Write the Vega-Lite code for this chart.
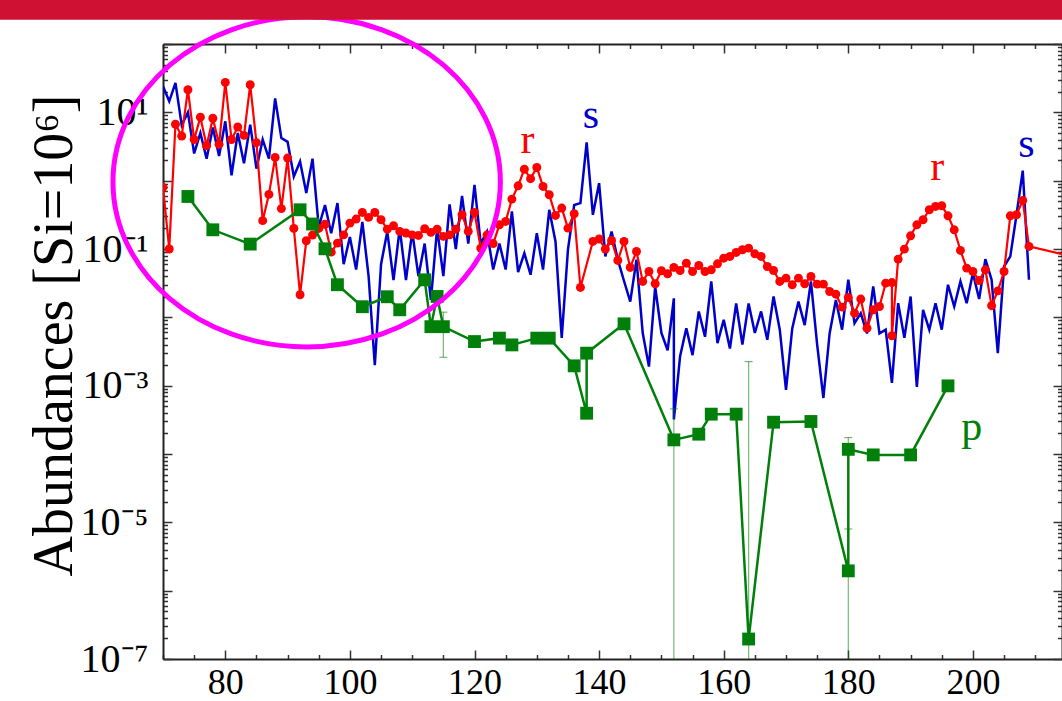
{
 "$schema": "https://vega.github.io/schema/vega-lite/v6.json",
 "width": 899,
 "height": 615,
 "autosize": {"type": "none"},
 "padding": {"left": 163, "top": 44, "right": 0, "bottom": 42},
 "background": "white",
 "config": {
  "view": {"stroke": null},
  "font": "Liberation Serif",
  "axis": {"grid": false, "domainColor": "#222", "domainWidth": 2, "tickColor": "#333", "tickWidth": 1.5, "labelColor": "#000", "labelFont": "Liberation Serif", "titleFont": "Liberation Serif", "titleColor": "#000", "titleFontWeight": "normal", "labelOverlap": false, "labelFlush": false}
 },
 "datasets": {
  "s": [
   {"A":70,"v":24},{"A":71,"v":14.5},{"A":72,"v":27},{"A":73,"v":6.5},{"A":74,"v":10},{"A":75,"v":2.5},{"A":76,"v":5},{"A":77,"v":2.1},{"A":78,"v":6},{"A":79,"v":2.3},
   {"A":80,"v":7.4},{"A":81,"v":1.2},{"A":82,"v":5},{"A":83,"v":1.8},{"A":84,"v":6.6},{"A":85,"v":1.5},{"A":86,"v":4},{"A":87,"v":2.1},{"A":88,"v":16},{"A":89,"v":4.2},
   {"A":90,"v":3.7},{"A":91,"v":1.15},{"A":92,"v":1.9},{"A":93,"v":0.66},{"A":94,"v":2.1},{"A":95,"v":0.21},{"A":96,"v":0.44},{"A":97,"v":0.17},{"A":98,"v":0.47},{"A":99,"v":0.06},
   {"A":100,"v":0.15},{"A":101,"v":0.05},{"A":102,"v":0.25},{"A":103,"v":0.04},{"A":104,"v":0.002},{"A":105,"v":0.06},{"A":106,"v":0.18},{"A":107,"v":0.035},{"A":108,"v":0.2},{"A":109,"v":0.035},
   {"A":110,"v":0.18},{"A":111,"v":0.04},{"A":112,"v":0.12},{"A":113,"v":0.018},{"A":114,"v":0.2},{"A":115,"v":0.04},{"A":116,"v":0.45},{"A":117,"v":0.1},{"A":118,"v":0.6},{"A":119,"v":0.12},
   {"A":120,"v":0.87},{"A":121,"v":0.12},{"A":122,"v":0.18},{"A":123,"v":0.05},{"A":124,"v":0.12},{"A":125,"v":0.05},{"A":126,"v":0.355},{"A":127,"v":0.046},{"A":128,"v":0.087},{"A":129,"v":0.042},
   {"A":130,"v":0.17},{"A":131,"v":0.05},{"A":132,"v":0.375},{"A":133,"v":0.129},{"A":134,"v":0.005},{"A":135,"v":0.098},{"A":136,"v":0.44},{"A":137,"v":0.47},{"A":138,"v":3.63},{"A":139,"v":0.316},
   {"A":140,"v":0.92},{"A":141,"v":0.078},{"A":142,"v":0.18},{"A":143,"v":0.07},{"A":144,"v":0.034},{"A":145,"v":0.017},{"A":146,"v":0.07},{"A":147,"v":0.0059},{"A":148,"v":0.0019},{"A":149,"v":0.028},
   {"A":150,"v":0.0059},{"A":151,"v":0.0033},{"A":152,"v":0.019},{"A":152,"v":0.00032},{"A":153,"v":0.0027},{"A":154,"v":0.0069},{"A":155,"v":0.0028},{"A":156,"v":0.0122},{"A":157,"v":0.0052},{"A":158,"v":0.0335},{"A":159,"v":0.0042},
   {"A":160,"v":0.0092},{"A":161,"v":0.0035},{"A":162,"v":0.016},{"A":163,"v":0.004},{"A":164,"v":0.016},{"A":165,"v":0.0059},{"A":166,"v":0.0122},{"A":167,"v":0.0047},{"A":168,"v":0.0202},{"A":169,"v":0.0066},
   {"A":170,"v":0.00087},{"A":171,"v":0.0069},{"A":172,"v":0.017},{"A":173,"v":0.0077},{"A":174,"v":0.0335},{"A":175,"v":0.004},{"A":176,"v":0.00066},{"A":177,"v":0.0058},{"A":178,"v":0.018},{"A":179,"v":0.0066},
   {"A":180,"v":0.0355},{"A":181,"v":0.0082},{"A":182,"v":0.0115},{"A":183,"v":0.0058},{"A":184,"v":0.0283},{"A":185,"v":0.0058},{"A":186,"v":0.0066},{"A":187,"v":0.0011},{"A":188,"v":0.0161},{"A":189,"v":0.005},
   {"A":190,"v":0.0202},{"A":191,"v":0.00096},{"A":192,"v":0.0129},{"A":193,"v":0.0066},{"A":194,"v":0.0161},{"A":195,"v":0.0066},{"A":196,"v":0.03},{"A":197,"v":0.0144},{"A":198,"v":0.0335},{"A":199,"v":0.0161},
   {"A":200,"v":0.0444},{"A":201,"v":0.0185},{"A":202,"v":0.071},{"A":203,"v":0.0355},{"A":204,"v":0.003},{"A":205,"v":0.0555},{"A":206,"v":0.078},{"A":207,"v":0.317},{"A":208,"v":1.4},{"A":209,"v":0.0355}
  ],
  "r": [
   {"A":70,"v":0.8},{"A":71,"v":0.1},{"A":72,"v":6.7},{"A":73,"v":4.5},{"A":74,"v":21.4},{"A":75,"v":4.0},{"A":76,"v":8.5},{"A":77,"v":3.25},{"A":78,"v":8.2},{"A":79,"v":3.4},
   {"A":80,"v":27.4},{"A":81,"v":4.0},{"A":82,"v":6.1},{"A":83,"v":4.6},{"A":84,"v":25.3},{"A":85,"v":3.6},{"A":86,"v":0.26},{"A":87,"v":0.63},{"A":88,"v":2.19},{"A":89,"v":0.39},
   {"A":90,"v":2.14},{"A":91,"v":0.2},{"A":92,"v":0.0214},{"A":93,"v":0.132},{"A":94,"v":0.16},{"A":95,"v":0.2},{"A":96,"v":0.23},{"A":97,"v":0.09},{"A":98,"v":0.122},{"A":99,"v":0.161},
   {"A":100,"v":0.239},{"A":101,"v":0.274},{"A":102,"v":0.343},{"A":103,"v":0.29},{"A":104,"v":0.343},{"A":105,"v":0.268},{"A":106,"v":0.195},{"A":107,"v":0.219},{"A":108,"v":0.181},{"A":109,"v":0.171},
   {"A":110,"v":0.161},{"A":111,"v":0.158},{"A":112,"v":0.198},{"A":113,"v":0.175},{"A":114,"v":0.195},{"A":115,"v":0.153},{"A":116,"v":0.161},{"A":117,"v":0.195},{"A":118,"v":0.317},{"A":119,"v":0.181},
   {"A":120,"v":0.343},{"A":121,"v":0.103},{"A":122,"v":0.16},{"A":123,"v":0.12},{"A":124,"v":0.226},{"A":125,"v":0.253},{"A":126,"v":0.537},{"A":127,"v":0.841},{"A":128,"v":1.47},{"A":129,"v":1.07},
   {"A":130,"v":1.56},{"A":131,"v":0.824},{"A":132,"v":0.622},{"A":133,"v":0.31},{"A":134,"v":0.397},{"A":135,"v":0.202},{"A":136,"v":0.328},{"A":137,"v":0.0274},{"A":139,"v":0.129},
   {"A":140,"v":0.14},{"A":141,"v":0.1},{"A":142,"v":0.133},{"A":143,"v":0.068},{"A":144,"v":0.129},{"A":145,"v":0.0537},{"A":146,"v":0.092},{"A":147,"v":0.0335},{"A":148,"v":0.0469},{"A":149,"v":0.031},
   {"A":150,"v":0.048},{"A":151,"v":0.0434},{"A":152,"v":0.0537},{"A":153,"v":0.0485},{"A":154,"v":0.062},{"A":155,"v":0.0469},{"A":156,"v":0.0574},{"A":157,"v":0.0469},{"A":158,"v":0.0496},{"A":159,"v":0.0607},
   {"A":160,"v":0.0734},{"A":161,"v":0.0778},{"A":162,"v":0.089},{"A":163,"v":0.0974},{"A":164,"v":0.103},{"A":165,"v":0.085},{"A":166,"v":0.0778},{"A":167,"v":0.0555},{"A":168,"v":0.0485},{"A":169,"v":0.0335},
   {"A":170,"v":0.0375},{"A":171,"v":0.0299},{"A":172,"v":0.0375},{"A":173,"v":0.031},{"A":174,"v":0.0397},{"A":175,"v":0.0306},{"A":176,"v":0.0306},{"A":177,"v":0.0239},{"A":178,"v":0.0218},{"A":179,"v":0.0141},
   {"A":180,"v":0.0195},{"A":181,"v":0.0115},{"A":182,"v":0.0185},{"A":183,"v":0.00695},{"A":184,"v":0.0129},{"A":185,"v":0.0144},{"A":186,"v":0.0316},{"A":187,"v":0.0323},{"A":187,"v":0.00537},{"A":188,"v":0.0711},{"A":189,"v":0.0996},
   {"A":190,"v":0.156},{"A":191,"v":0.226},{"A":192,"v":0.268},{"A":193,"v":0.375},{"A":194,"v":0.42},{"A":195,"v":0.43},{"A":196,"v":0.306},{"A":197,"v":0.191},{"A":198,"v":0.0953},{"A":199,"v":0.0525},
   {"A":200,"v":0.0469},{"A":201,"v":0.0346},{"A":202,"v":0.0496},{"A":203,"v":0.0148},{"A":204,"v":0.0244},{"A":205,"v":0.0469},{"A":206,"v":0.306},{"A":207,"v":0.317},{"A":208,"v":0.514},{"A":209,"v":0.109},
   {"A":232,"v":0.036}
  ],
  "p": [
   {"A":74,"v":0.587},{"A":78,"v":0.191},{"A":84,"v":0.118},{"A":92,"v":0.375},{"A":94,"v":0.232},{"A":96,"v":0.1007},{"A":98,"v":0.03},{"A":102,"v":0.0143},{"A":106,"v":0.02},{"A":108,"v":0.0129},
   {"A":112,"v":0.0354},{"A":113,"v":0.0073},{"A":114,"v":0.0202},{"A":115,"v":0.0073},{"A":120,"v":0.00442},{"A":124,"v":0.00496},{"A":126,"v":0.00395},{"A":130,"v":0.00496},{"A":132,"v":0.00496},
   {"A":136,"v":0.00195},{"A":138,"v":0.000395},{"A":138,"v":0.00299},{"A":144,"v":0.00803},{"A":152,"v":0.000161},{"A":156,"v":0.000195},{"A":158,"v":0.000383},{"A":162,"v":0.000383},{"A":164,"v":1.96e-7},
   {"A":168,"v":0.000292},{"A":174,"v":0.000299},{"A":180,"v":1.95e-6},{"A":180,"v":0.000117},{"A":184,"v":0.000097},{"A":190,"v":0.000097},{"A":196,"v":0.000993}
  ],
  "err": [
   {"A":115,"lo":0.0026,"hi":0.0119},{"A":152,"lo":1e-9,"hi":0.000457},{"A":164,"lo":1e-9,"hi":0.00225},{"A":180,"lo":6e-5,"hi":0.000174},{"A":180,"lo":1e-9,"hi":8e-6}
  ],
  "caps": [
   {"A":115,"v":0.0026},{"A":115,"v":0.0119},{"A":152,"v":0.000457},{"A":164,"v":0.00225},{"A":180,"v":0.000174},{"A":180,"v":8e-6}
  ],
  "labels": [
   {"A":128.5,"v":2.53,"t":"r","c":"r"},{"A":138.67,"v":5.94,"t":"s","c":"s"},{"A":194.26,"v":1.03,"t":"r","c":"r"},{"A":208.57,"v":2.22,"t":"s","c":"s"},{"A":199.83,"v":0.00016,"t":"p","c":"p"}
  ],
  "ellipse": [{"A":93.06,"v":0.96}],
  "band": [{"A":129.07,"v":318}]
 },
 "layer": [
  {
   "data": {"name": "s"},
   "mark": {"type": "line", "color": "#0000cc", "strokeWidth": 2.5, "clip": true},
   "encoding": {
    "x": {"field": "A", "type": "quantitative", "scale": {"domain": [70, 214.3], "nice": false, "zero": false},
     "axis": {"orient": "bottom", "title": null, "values": [70,75,80,85,90,95,100,105,110,115,120,125,130,135,140,145,150,155,160,165,170,175,180,185,190,195,200,205,210],
      "labelExpr": "datum.value % 20 == 0 ? datum.value : ''",
      "tickSize": {"condition": {"test": "datum.value % 20 == 0", "value": -9}, "value": -4.5},
      "labelPadding": 15, "labelFontSize": 36, "labelBaseline": "top"}},
    "y": {"field": "v", "type": "quantitative", "scale": {"type": "log", "domain": [1e-7, 100], "nice": false},
     "axis": {"orient": "left", "title": "Abundances [Si=10⁶]", "titleFontSize": 56, "titleAngle": -90, "titleAlign": "center", "titleBaseline": "alphabetic", "titleX": -92, "titleY": 291,
      "values": [1e-7,2e-7,3e-7,4e-7,5e-7,6e-7,7e-7,8e-7,9e-7,1e-6,2e-6,3e-6,4e-6,5e-6,6e-6,7e-6,8e-6,9e-6,1e-5,2e-5,3e-5,4e-5,5e-5,6e-5,7e-5,8e-5,9e-5,0.0001,0.0002,0.0003,0.0004,0.0005,0.0006,0.0007,0.0008,0.0009,0.001,0.002,0.003,0.004,0.005,0.006,0.007,0.008,0.009,0.01,0.02,0.03,0.04,0.05,0.06,0.07,0.08,0.09,0.1,0.2,0.3,0.4,0.5,0.6,0.7,0.8,0.9,1,2,3,4,5,6,7,8,9,10,20,30,40,50,60,70,80,90,100],
      "labelExpr": "datum.value == 10 ? '10¹' : datum.value == 0.1 ? '10⁻¹' : datum.value == 0.001 ? '10⁻³' : datum.value == 0.00001 ? '10⁻⁵' : datum.value == 1e-7 ? '10⁻⁷' : ''",
      "tickSize": {"condition": {"test": "abs(log(datum.value)/LN10 - round(log(datum.value)/LN10)) < 0.001", "value": -9}, "value": -4.5},
      "labelPadding": 24, "labelFontSize": 40, "labelBaseline": "middle", "labelAlign": "right"}},
    "order": {"value": null}
   }
  },
  {
   "data": {"name": "r"},
   "mark": {"type": "line", "color": "#ff0000", "strokeWidth": 2.2, "clip": true},
   "encoding": {
    "x": {"field": "A", "type": "quantitative", "scale": {"domain": [70, 214.3], "nice": false, "zero": false},
     "axis": {"orient": "top", "title": null, "labels": false, "values": [70,75,80,85,90,95,100,105,110,115,120,125,130,135,140,145,150,155,160,165,170,175,180,185,190,195,200,205,210],
      "tickSize": {"condition": {"test": "datum.value % 20 == 0", "value": -9}, "value": -4.5}}},
    "y": {"field": "v", "type": "quantitative", "scale": {"type": "log", "domain": [1e-7, 100], "nice": false},
     "axis": {"orient": "right", "title": null, "labels": false,
      "values": [1e-7,2e-7,3e-7,4e-7,5e-7,6e-7,7e-7,8e-7,9e-7,1e-6,2e-6,3e-6,4e-6,5e-6,6e-6,7e-6,8e-6,9e-6,1e-5,2e-5,3e-5,4e-5,5e-5,6e-5,7e-5,8e-5,9e-5,0.0001,0.0002,0.0003,0.0004,0.0005,0.0006,0.0007,0.0008,0.0009,0.001,0.002,0.003,0.004,0.005,0.006,0.007,0.008,0.009,0.01,0.02,0.03,0.04,0.05,0.06,0.07,0.08,0.09,0.1,0.2,0.3,0.4,0.5,0.6,0.7,0.8,0.9,1,2,3,4,5,6,7,8,9,10,20,30,40,50,60,70,80,90,100],
      "tickSize": {"condition": {"test": "abs(log(datum.value)/LN10 - round(log(datum.value)/LN10)) < 0.001", "value": -9}, "value": -4.5}}},
    "order": {"value": null}
   }
  },
  {
   "data": {"name": "r"},
   "mark": {"type": "point", "shape": "circle", "filled": true, "color": "#ff0000", "size": 80, "opacity": 1, "clip": true},
   "encoding": {
    "x": {"field": "A", "type": "quantitative", "scale": {"domain": [70, 214.3], "nice": false, "zero": false}, "axis": null},
    "y": {"field": "v", "type": "quantitative", "scale": {"type": "log", "domain": [1e-7, 100], "nice": false}, "axis": null}
   }
  },
  {
   "data": {"name": "err"},
   "mark": {"type": "rule", "color": "#008000", "opacity": 0.55, "strokeWidth": 1.2, "clip": true},
   "encoding": {
    "x": {"field": "A", "type": "quantitative", "scale": {"domain": [70, 214.3], "nice": false, "zero": false}, "axis": null},
    "y": {"field": "lo", "type": "quantitative", "scale": {"type": "log", "domain": [1e-7, 100], "nice": false}, "axis": null},
    "y2": {"field": "hi"}
   }
  },
  {
   "data": {"name": "caps"},
   "mark": {"type": "tick", "orient": "horizontal", "color": "#008000", "opacity": 0.55, "size": 8, "thickness": 1.2},
   "encoding": {
    "x": {"field": "A", "type": "quantitative", "scale": {"domain": [70, 214.3], "nice": false, "zero": false}, "axis": null},
    "y": {"field": "v", "type": "quantitative", "scale": {"type": "log", "domain": [1e-7, 100], "nice": false}, "axis": null}
   }
  },
  {
   "data": {"name": "p"},
   "mark": {"type": "line", "color": "#00800a", "strokeWidth": 2.5},
   "encoding": {
    "x": {"field": "A", "type": "quantitative", "scale": {"domain": [70, 214.3], "nice": false, "zero": false}, "axis": null},
    "y": {"field": "v", "type": "quantitative", "scale": {"type": "log", "domain": [1e-7, 100], "nice": false}, "axis": null},
    "order": {"value": null}
   }
  },
  {
   "data": {"name": "p"},
   "mark": {"type": "point", "shape": "square", "filled": true, "color": "#00800a", "size": 165, "opacity": 1},
   "encoding": {
    "x": {"field": "A", "type": "quantitative", "scale": {"domain": [70, 214.3], "nice": false, "zero": false}, "axis": null},
    "y": {"field": "v", "type": "quantitative", "scale": {"type": "log", "domain": [1e-7, 100], "nice": false}, "axis": null}
   }
  },
  {
   "data": {"name": "labels"},
   "mark": {"type": "text", "font": "Liberation Serif", "fontSize": 42, "baseline": "alphabetic", "align": "center"},
   "encoding": {
    "x": {"field": "A", "type": "quantitative", "scale": {"domain": [70, 214.3], "nice": false, "zero": false}, "axis": null},
    "y": {"field": "v", "type": "quantitative", "scale": {"type": "log", "domain": [1e-7, 100], "nice": false}, "axis": null},
    "text": {"field": "t"},
    "color": {"field": "c", "type": "nominal", "scale": {"domain": ["s", "r", "p"], "range": ["#0000cc", "#ff0000", "#00800a"]}, "legend": null}
   }
  },
  {
   "data": {"name": "ellipse"},
   "mark": {"type": "point", "shape": "M1,0C1,0.4706 0.5523,0.852 0,0.852C-0.5523,0.852 -1,0.4706 -1,0C-1,-0.4706 -0.5523,-0.852 0,-0.852C0.5523,-0.852 1,-0.4706 1,0Z", "size": 150079, "filled": false, "stroke": "#ff00ff", "strokeWidth": 5, "opacity": 1},
   "encoding": {
    "x": {"field": "A", "type": "quantitative", "scale": {"domain": [70, 214.3], "nice": false, "zero": false}, "axis": null},
    "y": {"field": "v", "type": "quantitative", "scale": {"type": "log", "domain": [1e-7, 100], "nice": false}, "axis": null}
   }
  },
  {
   "data": {"name": "band"},
   "mark": {"type": "point", "shape": "M-1,-0.0189L1,-0.0189L1,0.0189L-1,0.0189Z", "size": 1127844, "filled": true, "fill": "#cf1234", "strokeWidth": 0, "opacity": 1},
   "encoding": {
    "x": {"field": "A", "type": "quantitative", "scale": {"domain": [70, 214.3], "nice": false, "zero": false}, "axis": null},
    "y": {"field": "v", "type": "quantitative", "scale": {"type": "log", "domain": [1e-7, 100], "nice": false}, "axis": null}
   }
  }
 ],
 "resolve": {"axis": {"x": "independent", "y": "independent"}}
}
